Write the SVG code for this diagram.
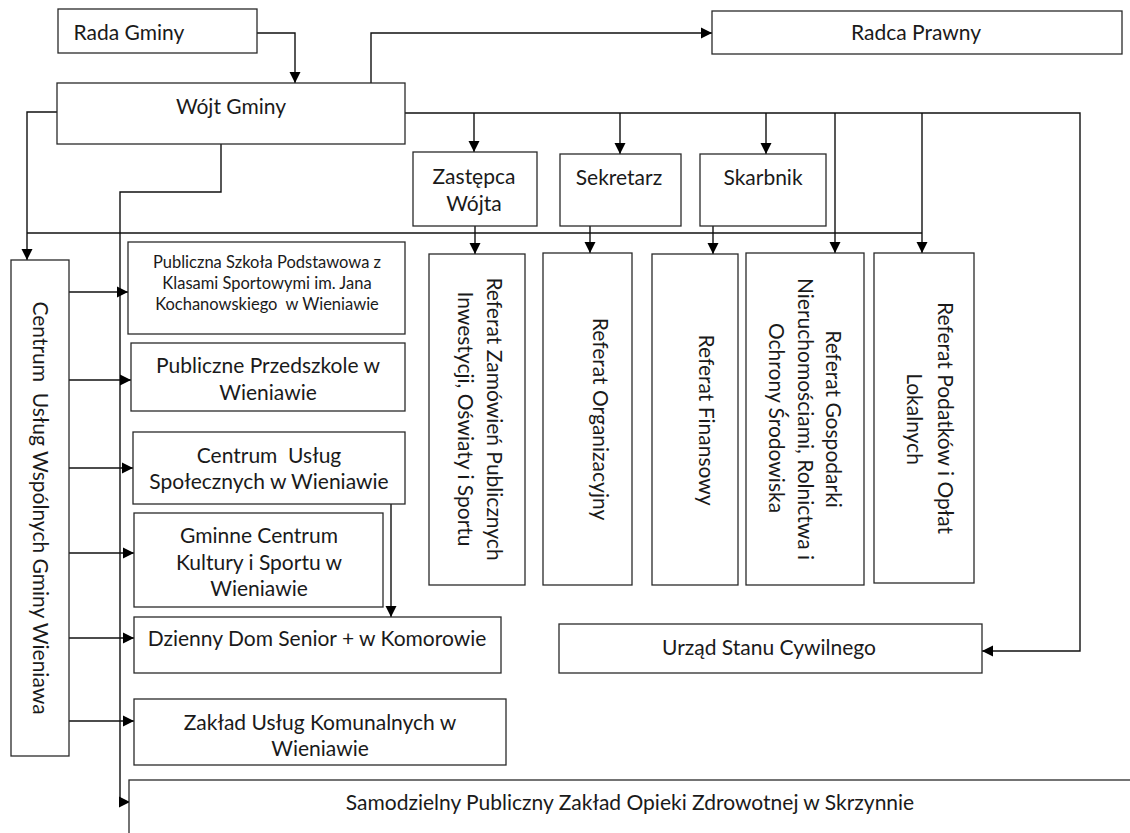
<svg xmlns="http://www.w3.org/2000/svg" width="1130" height="833" viewBox="0 0 1130 833">
<defs>
<marker id="arr" markerWidth="12" markerHeight="12" refX="11" refY="6" orient="auto" markerUnits="userSpaceOnUse">
<path d="M0,0.5 L11,6 L0,11.5 z" fill="#000"/>
</marker>
<style>
.box{fill:#fff;stroke:#2a2a2a;stroke-width:1.3}
.c{fill:none;stroke:#111;stroke-width:1.4}
.a{marker-end:url(#arr)}
text{font-family:Lato,"Liberation Sans",sans-serif;fill:#1a1a1a;font-size:21px;text-anchor:middle}
.s{font-size:16.5px}
.pre{white-space:pre}
</style>
</defs>
<rect width="1130" height="833" fill="#fff"/>

<g id="connectors">
<path class="c a" d="M257,33 H295 V83"/>
<path class="c a" d="M371,83 V33 H712"/>
<path class="c a" d="M405,113 H1080 V651 H982"/>
<path class="c a" d="M474,113 V152"/>
<path class="c a" d="M620,113 V154"/>
<path class="c a" d="M766,113 V154"/>
<path class="c a" d="M835,113 V253"/>
<path class="c a" d="M922,113 V253"/>
<path class="c a" d="M57,112 H27 V260"/>
<path class="c" d="M27,233 H922"/>
<path class="c a" d="M475,226 V254"/>
<path class="c a" d="M590,226 V253"/>
<path class="c a" d="M713,226 V254"/>
<path class="c" d="M221,144 V192 H120 V806"/>
<path class="c a" d="M120,802 H130"/>
<path class="c a" d="M69,292 H128"/>
<path class="c a" d="M69,380 H131"/>
<path class="c a" d="M69,468 H133"/>
<path class="c a" d="M69,553 H134"/>
<path class="c a" d="M69,638 H134"/>
<path class="c a" d="M69,721 H134"/>
<path class="c a" d="M391,504 V617"/>
</g>

<g id="rada"><rect class="box" x="58" y="9" width="199" height="44"/><text x="129" y="40">Rada Gminy</text></g>
<g id="wojt"><rect class="box" x="57" y="83" width="348" height="61"/><text x="231" y="114">Wójt Gminy</text></g>
<g id="radca"><rect class="box" x="712" y="11" width="410" height="43"/><text x="916" y="40">Radca Prawny</text></g>
<g id="zastepca"><rect class="box" x="413" y="152" width="124" height="74"/><text x="474" y="184">Zastępca</text><text x="474" y="211">Wójta</text></g>
<g id="sekretarz"><rect class="box" x="560" y="154" width="121" height="72"/><text x="619" y="185">Sekretarz</text></g>
<g id="skarbnik"><rect class="box" x="700" y="154" width="126" height="72"/><text x="763" y="185">Skarbnik</text></g>

<g id="ref1"><rect class="box" x="429" y="254" width="96" height="331"/>
<text transform="translate(494,419) rotate(90)" y="7">Referat Zamówień Publicznych</text>
<text transform="translate(465,419) rotate(90)" y="7">Inwestycji, Oświaty i Sportu</text></g>
<g id="ref2"><rect class="box" x="543" y="253" width="89" height="332"/>
<text transform="translate(600,419) rotate(90)" y="7">Referat Organizacyjny</text></g>
<g id="ref3"><rect class="box" x="652" y="254" width="86" height="331"/>
<text transform="translate(706,420) rotate(90)" y="7">Referat Finansowy</text></g>
<g id="ref4"><rect class="box" x="746" y="253" width="118" height="332"/>
<text transform="translate(833,419) rotate(90)" y="7">Referat Gospodarki</text>
<text transform="translate(805,419) rotate(90)" y="7">Nieruchomościami, Rolnictwa i</text>
<text transform="translate(776,418) rotate(90)" y="7">Ochrony Środowiska</text></g>
<g id="ref5"><rect class="box" x="874" y="253" width="100" height="330"/>
<text transform="translate(945,418) rotate(90)" y="7">Referat Podatków i Opłat</text>
<text transform="translate(914,419) rotate(90)" y="7">Lokalnych</text></g>

<g id="centrum"><rect class="box" x="11" y="260" width="58" height="496"/>
<text class="pre" transform="translate(40,508) rotate(90)" y="7">Centrum  Usług Wspólnych Gminy Wieniawa</text></g>

<g id="szkola"><rect class="box" x="128" y="242" width="277" height="92"/>
<text class="s" x="267" y="268">Publiczna Szkoła Podstawowa z</text>
<text class="s" x="267" y="289">Klasami Sportowymi im. Jana</text>
<text class="s pre" x="267" y="310">Kochanowskiego  w Wieniawie</text></g>
<g id="przedszkole"><rect class="box" x="131" y="343" width="274" height="68"/>
<text x="268" y="373">Publiczne Przedszkole w</text><text x="268" y="400">Wieniawie</text></g>
<g id="cus"><rect class="box" x="133" y="432" width="272" height="72"/>
<text class="pre" x="269" y="463">Centrum  Usług</text><text x="269" y="489">Społecznych w Wieniawie</text></g>
<g id="gck"><rect class="box" x="134" y="513" width="249" height="94"/>
<text x="259" y="543">Gminne Centrum</text><text x="259" y="570">Kultury i Sportu w</text><text x="259" y="596">Wieniawie</text></g>
<g id="dzienny"><rect class="box" x="134" y="617" width="367" height="56"/>
<text x="317" y="646">Dzienny Dom Senior + w Komorowie</text></g>
<g id="zaklad"><rect class="box" x="134" y="699" width="372" height="66"/>
<text x="320" y="730">Zakład Usług Komunalnych w</text><text x="320" y="756">Wieniawie</text></g>
<g id="usc"><rect class="box" x="559" y="624" width="423" height="49"/>
<text x="769" y="655">Urząd Stanu Cywilnego</text></g>
<g id="spzoz"><rect class="box" x="129" y="780" width="1020" height="80"/>
<text x="630" y="810">Samodzielny Publiczny Zakład Opieki Zdrowotnej w Skrzynnie</text></g>
</svg>
